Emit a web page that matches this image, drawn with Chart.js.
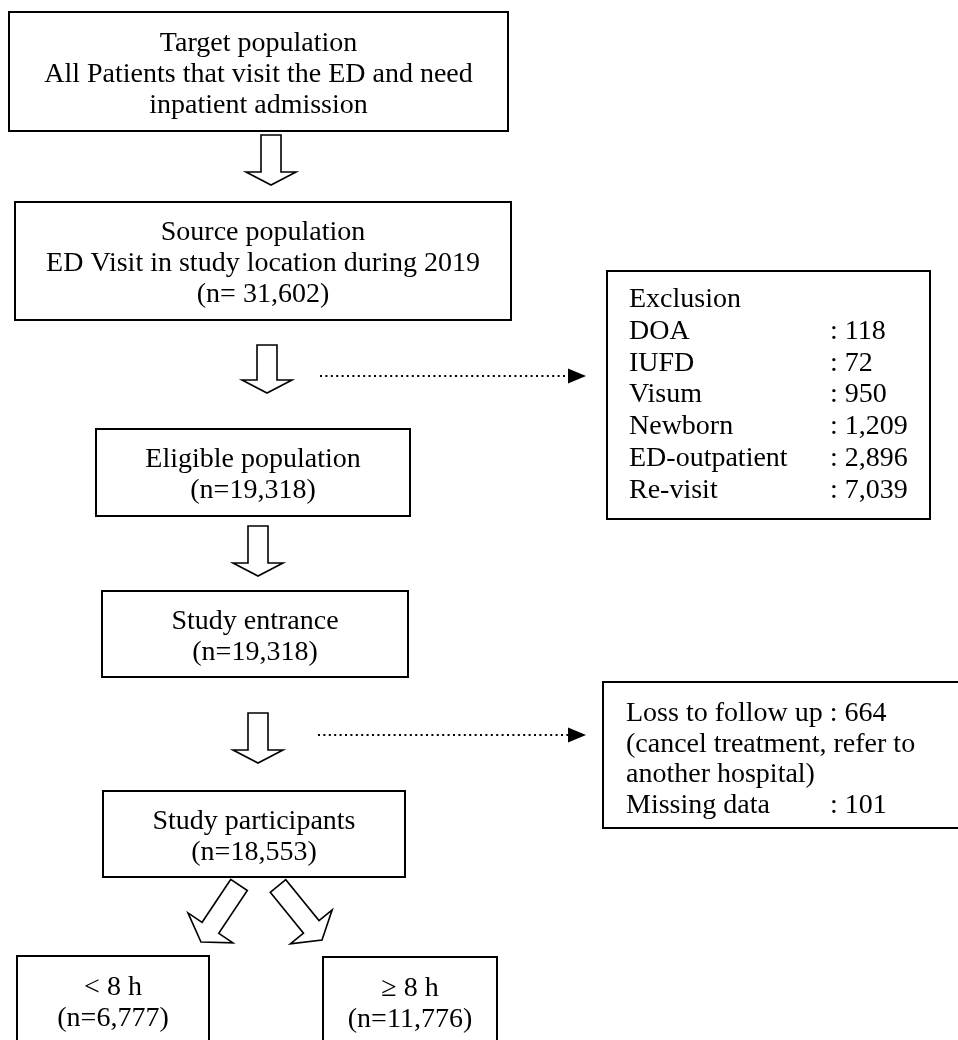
<!DOCTYPE html>
<html>
<head>
<meta charset="utf-8">
<script src="https://cdn.jsdelivr.net/npm/chart.js@4.4.1/dist/chart.umd.min.js"></script>
<style>
  body { margin: 0; background: #fff; }
  #wrap { width: 958px; height: 1040px; }
</style>
</head>
<body>
<div id="wrap"><canvas id="myChart" width="958" height="1040"></canvas></div>
<script>
// flow steps (main column)
const stepTitles = ["Target population", "Source population", "Eligible population",
  "Study entrance", "Study participants", "< 8 h", "\u2265 8 h"];
const stepNotes = [["All Patients that visit the ED and need", "inpatient admission"],
  ["ED Visit in study location during 2019"], [], [], [], [], []];
const stepCounts = [null, 31602, 19318, 19318, 18553, 6777, 11776];

// side boxes
const exclusionReasons = ["DOA", "IUFD", "Visum", "Newborn", "ED-outpatient", "Re-visit"];
const exclusionCounts = [118, 72, 950, 1209, 2896, 7039];
const lossReasons = ["Loss to follow up", "Missing data"];
const lossCounts = [664, 101];
const lossNote = ["(cancel treatment, refer to", "another hospital)"];

// layout in axis units (x0, x1, y0, y1)
const stepBoxes = [[9, 508, 12, 131], [15, 511, 202, 320], [96, 410, 429, 516],
  [102, 408, 591, 677], [103, 405, 791, 877], [17, 209, 956, 1050], [323, 497, 957, 1050]];
const exclBox = [607, 930, 271, 519];
const lossBox = [603, 990, 682, 828];
// down arrows: cx, top, tip
const downArrows = [[271, 135, 185], [267, 345, 393], [258, 526, 576], [258, 713, 763]];
// split arrows: start, tip
const splitArrows = [[239, 885, 201, 942], [278, 886, 322, 940]];
// dotted arrows: y, x from, x to
const dotArrows = [[376, 320, 586], [735, 318, 586]];

const fmt = n => n.toLocaleString("en-US");
const FONT = "28px 'Liberation Serif', 'Times New Roman', serif";
const LH = 31;

function hollowArrow(ctx, sx, sy, tx, ty, sw, hw, hl) {
  const len = Math.hypot(tx - sx, ty - sy);
  const dx = (tx - sx) / len, dy = (ty - sy) / len;
  const nx = -dy, ny = dx;
  const bx = tx - dx * hl, by = ty - dy * hl;
  const pts = [
    [sx + nx * sw / 2, sy + ny * sw / 2],
    [bx + nx * sw / 2, by + ny * sw / 2],
    [bx + nx * hw / 2, by + ny * hw / 2],
    [tx, ty],
    [bx - nx * hw / 2, by - ny * hw / 2],
    [bx - nx * sw / 2, by - ny * sw / 2],
    [sx - nx * sw / 2, sy - ny * sw / 2]
  ];
  ctx.beginPath();
  ctx.moveTo(pts[0][0], pts[0][1]);
  for (let i = 1; i < pts.length; i++) ctx.lineTo(pts[i][0], pts[i][1]);
  ctx.closePath();
  ctx.fillStyle = "#fff";
  ctx.fill();
  ctx.lineWidth = 1.6;
  ctx.strokeStyle = "#000";
  ctx.stroke();
}

const flowPlugin = {
  id: "flow",
  afterDraw(chart) {
    const ctx = chart.ctx;
    const X = v => chart.scales.x.getPixelForValue(v);
    const Y = v => chart.scales.y.getPixelForValue(v);
    ctx.save();
    ctx.strokeStyle = "#000";
    ctx.fillStyle = "#000";
    ctx.font = FONT;
    ctx.textBaseline = "middle";

    const rect = b => {
      ctx.lineWidth = 2;
      ctx.strokeStyle = "#000";
      ctx.strokeRect(X(b[0]), Y(b[2]), X(b[1]) - X(b[0]), Y(b[3]) - Y(b[2]));
    };

    // main boxes
    for (let i = 0; i < stepTitles.length; i++) {
      const b = stepBoxes[i];
      rect(b);
      const lines = [stepTitles[i], ...stepNotes[i]];
      if (stepCounts[i] != null) lines.push((i == 1 ? "(n= " : "(n=") + fmt(stepCounts[i]) + ")");
      const cx = (b[0] + b[1]) / 2;
      const cy = (b[2] + Math.min(b[3], 1045)) / 2 + 3;
      const y0 = cy - (lines.length - 1) * LH / 2;
      ctx.textAlign = "center";
      ctx.fillStyle = "#000";
      lines.forEach((t, k) => ctx.fillText(t, X(cx), Y(y0 + k * LH)));
    }
    // exclusion box
    rect(exclBox);
    ctx.textAlign = "left";
    ctx.fillText("Exclusion", X(629), Y(300));
    exclusionReasons.forEach((r, k) => {
      const y = 300 + (k + 1) * 31.7;
      ctx.fillText(r, X(629), Y(y));
      ctx.fillText(": " + fmt(exclusionCounts[k]), X(830), Y(y));
    });
    // loss box
    rect(lossBox);
    ctx.fillText(lossReasons[0] + " : " + fmt(lossCounts[0]), X(626), Y(714));
    ctx.fillText(lossNote[0], X(626), Y(745));
    ctx.fillText(lossNote[1], X(626), Y(775));
    ctx.fillText(lossReasons[1], X(626), Y(806));
    ctx.fillText(": " + fmt(lossCounts[1]), X(830), Y(806));

    // arrows
    downArrows.forEach(a => hollowArrow(ctx, X(a[0]), Y(a[1]), X(a[0]), Y(a[2]), 20, 50, 13));
    splitArrows.forEach(a => hollowArrow(ctx, X(a[0]), Y(a[1]), X(a[2]), Y(a[3]), 20, 54, 17));

    dotArrows.forEach(a => {
      ctx.beginPath();
      ctx.setLineDash([2, 3.4]);
      ctx.lineWidth = 2;
      ctx.moveTo(X(a[1]), Y(a[0]));
      ctx.lineTo(X(a[2] - 18), Y(a[0]));
      ctx.stroke();
      ctx.setLineDash([]);
      ctx.beginPath();
      ctx.moveTo(X(a[2] - 18), Y(a[0] - 7.5));
      ctx.lineTo(X(a[2]), Y(a[0]));
      ctx.lineTo(X(a[2] - 18), Y(a[0] + 7.5));
      ctx.closePath();
      ctx.fillStyle = "#000";
      ctx.fill();
    });
    ctx.restore();
  }
};

const ctx = document.getElementById("myChart");
new Chart(ctx, {
  type: "scatter",
  data: {
    datasets: [{
      data: stepBoxes.map(b => ({ x: (b[0] + b[1]) / 2, y: (b[2] + b[3]) / 2 })),
      pointRadius: 0
    }]
  },
  options: {
    responsive: false,
    animation: false,
    layout: { padding: 0 },
    plugins: { legend: { display: false }, tooltip: { enabled: false } },
    scales: {
      x: { type: "linear", min: 0, max: 958, display: false },
      y: { type: "linear", min: 0, max: 1040, reverse: true, display: false }
    }
  },
  plugins: [flowPlugin]
});
</script>
</body>
</html>
